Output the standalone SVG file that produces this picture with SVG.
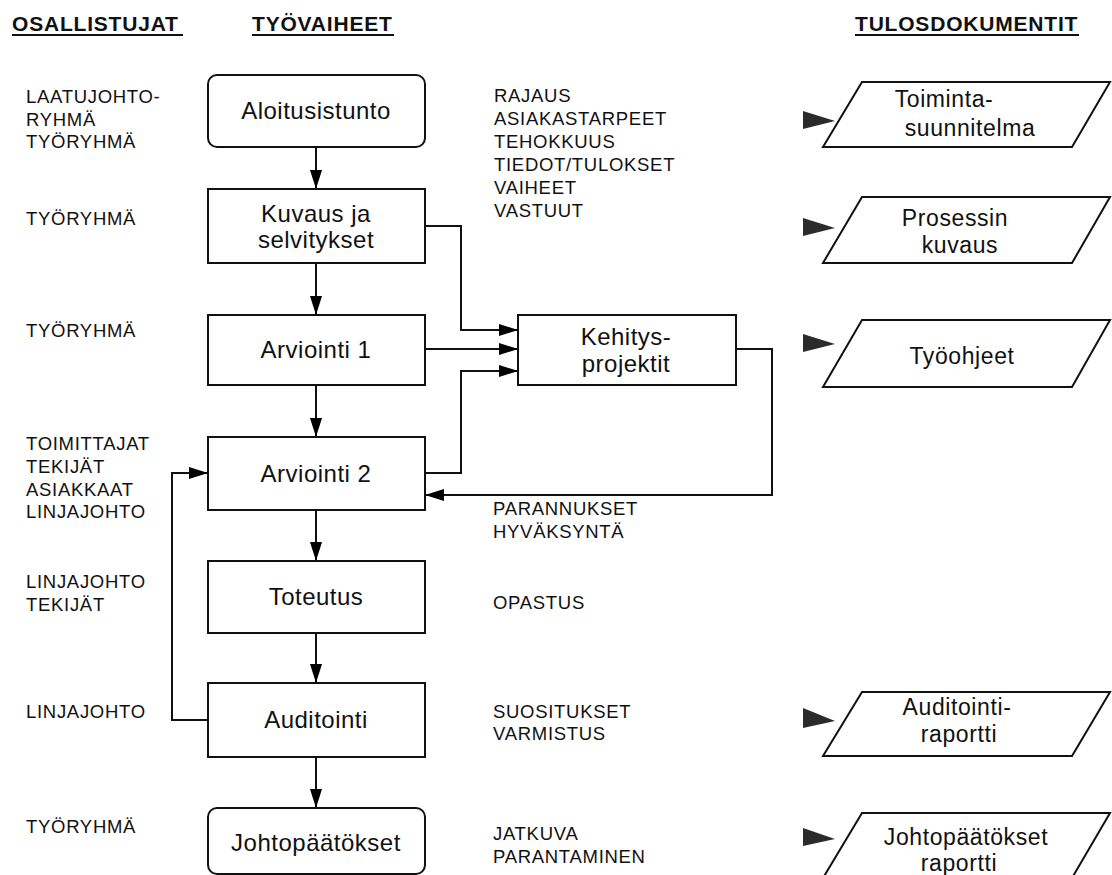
<svg xmlns="http://www.w3.org/2000/svg" width="1112" height="875" viewBox="0 0 1112 875">
  <style>
    .head { font-family: "Liberation Sans", Arial, sans-serif; font-size: 21px; font-weight: bold; fill: #111; letter-spacing: 0.8px; }
    .ul { stroke: #111; stroke-width: 2; }
    .note { font-family: "Liberation Sans", Arial, sans-serif; font-size: 18.5px; fill: #111; letter-spacing: 0.7px; }
    .lbl { font-family: "Liberation Sans", Arial, sans-serif; font-size: 24px; fill: #111; letter-spacing: 0.5px; text-anchor: middle; }
    .dlbl { font-family: "Liberation Sans", Arial, sans-serif; font-size: 23px; fill: #111; letter-spacing: 0.6px; text-anchor: middle; }
    .box { fill: #fff; stroke: #111; stroke-width: 2; }
    .doc { fill: #fff; stroke: #111; stroke-width: 2; }
    .tri { fill: #2b2b2b; }
    .wire { fill: none; stroke: #111; stroke-width: 2; }
  </style>
  <defs>
    <marker id="arrow" markerUnits="userSpaceOnUse" markerWidth="20" markerHeight="14" refX="19" refY="6" orient="auto">
      <path d="M0,0 L19,6 L0,12 z" fill="#000"/>
    </marker>
  </defs>

  <rect width="1112" height="875" fill="#fff"/>

  <!-- column headers -->
  <g id="headers">
    <text class="head" x="12" y="31">OSALLISTUJAT</text>
    <line class="ul" x1="12" y1="35" x2="183" y2="35"/>
    <text class="head" x="252" y="31">TYÖVAIHEET</text>
    <line class="ul" x1="252" y1="35" x2="394" y2="35"/>
    <text class="head" x="855" y="31">TULOSDOKUMENTIT</text>
    <line class="ul" x1="855" y1="35" x2="1079" y2="35"/>
  </g>

  <!-- participants column -->
  <g id="participants">
    <text class="note" x="26" y="103">LAATUJOHTO-</text>
    <text class="note" x="26" y="126">RYHMÄ</text>
    <text class="note" x="26" y="148">TYÖRYHMÄ</text>
    <text class="note" x="26" y="225">TYÖRYHMÄ</text>
    <text class="note" x="26" y="337">TYÖRYHMÄ</text>
    <text class="note" x="26" y="450">TOIMITTAJAT</text>
    <text class="note" x="26" y="473">TEKIJÄT</text>
    <text class="note" x="26" y="496">ASIAKKAAT</text>
    <text class="note" x="26" y="518">LINJAJOHTO</text>
    <text class="note" x="26" y="588">LINJAJOHTO</text>
    <text class="note" x="26" y="611">TEKIJÄT</text>
    <text class="note" x="26" y="718">LINJAJOHTO</text>
    <text class="note" x="26" y="833">TYÖRYHMÄ</text>
  </g>

  <!-- phase notes -->
  <g id="phase-notes">
    <text class="note" x="494" y="102">RAJAUS</text>
    <text class="note" x="494" y="125">ASIAKASTARPEET</text>
    <text class="note" x="494" y="148">TEHOKKUUS</text>
    <text class="note" x="494" y="171">TIEDOT/TULOKSET</text>
    <text class="note" x="494" y="194">VAIHEET</text>
    <text class="note" x="494" y="217">VASTUUT</text>
    <text class="note" x="493" y="515">PARANNUKSET</text>
    <text class="note" x="493" y="538">HYVÄKSYNTÄ</text>
    <text class="note" x="493" y="609">OPASTUS</text>
    <text class="note" x="493" y="718">SUOSITUKSET</text>
    <text class="note" x="493" y="740">VARMISTUS</text>
    <text class="note" x="493" y="840">JATKUVA</text>
    <text class="note" x="493" y="863">PARANTAMINEN</text>
  </g>

  <!-- connectors -->
  <g id="connectors">
    <line class="wire" x1="316" y1="147" x2="316" y2="189" marker-end="url(#arrow)"/>
    <line class="wire" x1="316" y1="263" x2="316" y2="315" marker-end="url(#arrow)"/>
    <line class="wire" x1="316" y1="385" x2="316" y2="437" marker-end="url(#arrow)"/>
    <line class="wire" x1="316" y1="510" x2="316" y2="561" marker-end="url(#arrow)"/>
    <line class="wire" x1="316" y1="633" x2="316" y2="683" marker-end="url(#arrow)"/>
    <line class="wire" x1="316" y1="757" x2="316" y2="808" marker-end="url(#arrow)"/>
    <!-- into development projects -->
    <polyline class="wire" points="425,226 461,226 461,330 518,330" marker-end="url(#arrow)"/>
    <polyline class="wire" points="425,349 518,349" marker-end="url(#arrow)"/>
    <polyline class="wire" points="425,473 461,473 461,371 518,371" marker-end="url(#arrow)"/>
    <!-- improvements back to evaluation 2 -->
    <polyline class="wire" points="736,349 772,349 772,495 425,495" marker-end="url(#arrow)"/>
    <!-- audit loop back to evaluation 2 -->
    <polyline class="wire" points="208,720 172,720 172,473 208,473" marker-end="url(#arrow)"/>
  </g>

  <!-- work phases -->
  <g id="aloitusistunto">
    <rect class="box" x="208" y="75" width="217" height="72" rx="9"/>
    <text class="lbl" x="316" y="119">Aloitusistunto</text>
  </g>
  <g id="kuvaus">
    <rect class="box" x="208" y="189" width="217" height="74"/>
    <text class="lbl" x="316" y="222">Kuvaus ja</text>
    <text class="lbl" x="316" y="248">selvitykset</text>
  </g>
  <g id="arviointi1">
    <rect class="box" x="208" y="315" width="217" height="70"/>
    <text class="lbl" x="316" y="358">Arviointi 1</text>
  </g>
  <g id="arviointi2">
    <rect class="box" x="208" y="437" width="217" height="73"/>
    <text class="lbl" x="316" y="482">Arviointi 2</text>
  </g>
  <g id="toteutus">
    <rect class="box" x="208" y="561" width="217" height="72"/>
    <text class="lbl" x="316" y="605">Toteutus</text>
  </g>
  <g id="auditointi">
    <rect class="box" x="208" y="683" width="217" height="74"/>
    <text class="lbl" x="316" y="728">Auditointi</text>
  </g>
  <g id="johtopaatokset">
    <rect class="box" x="208" y="808" width="217" height="66" rx="9"/>
    <text class="lbl" x="316" y="851">Johtopäätökset</text>
  </g>
  <g id="kehitysprojektit">
    <rect class="box" x="518" y="315" width="218" height="70"/>
    <text class="lbl" x="626" y="345">Kehitys-</text>
    <text class="lbl" x="626" y="372">projektit</text>
  </g>

  <!-- result documents -->
  <g id="doc-toimintasuunnitelma">
    <path class="tri" d="M803,111 L803,129 L835,121 z"/>
    <polygon class="doc" points="862,82 1110,82 1072,147 823,147"/>
    <text class="dlbl" x="944" y="107">Toiminta-</text>
    <text class="dlbl" x="970" y="136">suunnitelma</text>
  </g>
  <g id="doc-prosessinkuvaus">
    <path class="tri" d="M803,218 L803,236 L835,228 z"/>
    <polygon class="doc" points="862,197 1110,197 1072,263 823,263"/>
    <text class="dlbl" x="955" y="226">Prosessin</text>
    <text class="dlbl" x="960" y="253">kuvaus</text>
  </g>
  <g id="doc-tyoohjeet">
    <path class="tri" d="M803,334 L803,352 L835,344 z"/>
    <polygon class="doc" points="862,320 1110,320 1072,387 823,387"/>
    <text class="dlbl" x="962" y="364">Työohjeet</text>
  </g>
  <g id="doc-auditointiraportti">
    <path class="tri" d="M803,708 L803,728 L835,721 z"/>
    <polygon class="doc" points="862,692 1110,692 1072,756 823,756"/>
    <text class="dlbl" x="957" y="715">Auditointi-</text>
    <text class="dlbl" x="959" y="742">raportti</text>
  </g>
  <g id="doc-johtopaatoksetraportti">
    <path class="tri" d="M803,828 L803,846 L835,839 z"/>
    <polygon class="doc" points="862,813 1110,813 1072,878 823,878"/>
    <text class="dlbl" x="966" y="845">Johtopäätökset</text>
    <text class="dlbl" x="959" y="871">raportti</text>
  </g>
</svg>
